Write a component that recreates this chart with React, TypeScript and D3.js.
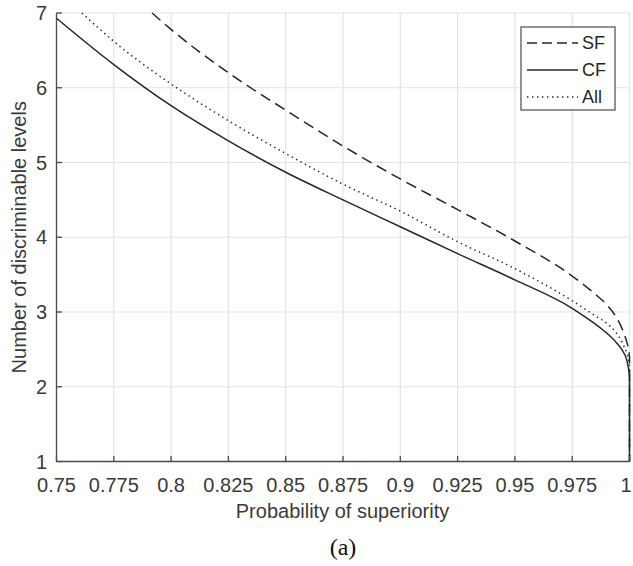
import React from "react";
import * as d3 from "d3";

const xTicks = [0.75, 0.775, 0.8, 0.825, 0.85, 0.875, 0.9, 0.925, 0.95, 0.975, 1];
const xTickLabels = ["0.75", "0.775", "0.8", "0.825", "0.85", "0.875", "0.9", "0.925", "0.95", "0.975", "1"];
const yTicks = [1, 2, 3, 4, 5, 6, 7];

const cfP = [0.75, 0.775, 0.8, 0.825, 0.85, 0.875, 0.9, 0.925, 0.95, 0.975, 0.985, 0.99, 0.994, 0.997, 0.9987, 0.9996, 1];
const cfL = [6.93, 6.31, 5.76, 5.29, 4.87, 4.5, 4.14, 3.78, 3.43, 3.05, 2.84, 2.72, 2.6, 2.48, 2.37, 2.24, 2.15];

const allP = [0.7611, 0.775, 0.8, 0.825, 0.85, 0.875, 0.9, 0.925, 0.95, 0.975, 0.985, 0.99, 0.994, 0.997, 0.9988, 0.9997, 1];
const allL = [7.0, 6.62, 6.05, 5.56, 5.12, 4.71, 4.35, 3.94, 3.58, 3.15, 2.95, 2.85, 2.73, 2.58, 2.45, 2.35, 2.28];

const sfP = [0.7917, 0.8, 0.825, 0.85, 0.875, 0.9, 0.925, 0.95, 0.975, 0.985, 0.99, 0.994, 0.997, 0.9988, 0.9997, 1];
const sfL = [7.0, 6.78, 6.2, 5.7, 5.22, 4.78, 4.37, 3.95, 3.48, 3.24, 3.1, 2.94, 2.76, 2.6, 2.48, 2.4];

const seriesNames = ["SF", "CF", "All"];

const W = 633;
const H = 566;
const left = 56.5;
const right = 629.5;
const top = 13;
const bottom = 461.5;

export default function App() {
  const x = d3.scaleLinear().domain([0.75, 1]).range([left, right]);
  const y = d3.scaleLinear().domain([1, 7]).range([bottom, top]);
  const line = d3
    .line<[number, number]>()
    .x((d) => x(d[0]))
    .y((d) => y(d[1]))
    .curve(d3.curveMonotoneX);

  const mk = (ps: number[], ls: number[]) => {
    const pts = ps.map((p, i) => [p, ls[i]] as [number, number]);
    return line(pts) + `L${x(1)},${y(1)}`;
  };

  const ink = "#262626";
  const axisCol = "#4a4a4a";
  const textCol = "#3a3a3a";
  const font = "'Liberation Sans', Arial, Helvetica, sans-serif";
  const dotted = "1.4,3.6";

  const series = [
    { name: seriesNames[0], d: mk(sfP, sfL), dash: "11,6", legDash: "10,5" },
    { name: seriesNames[1], d: mk(cfP, cfL), dash: "none", legDash: "none" },
    { name: seriesNames[2], d: mk(allP, allL), dash: dotted, legDash: dotted },
  ];

  const legX = 521;
  const legY = 27;
  const legW = 94;
  const legH = 83;
  const legRows = [43, 70, 97];

  return (
    <svg
      width={W}
      height={H}
      style={{ position: "absolute", left: 0, top: 0, background: "#fff" }}
      fontFamily={font}
    >
      <rect x={0} y={0} width={W} height={H} fill="#fff" />
      {/* grid */}
      {xTicks.map((t) => (
        <line key={"gx" + t} x1={x(t)} x2={x(t)} y1={top} y2={bottom} stroke="#e3e3e3" strokeWidth={1.2} />
      ))}
      {yTicks.map((t) => (
        <line key={"gy" + t} x1={left} x2={right} y1={y(t)} y2={y(t)} stroke="#e3e3e3" strokeWidth={1.2} />
      ))}
      {/* curves */}
      {series.map((s) => (
        <path
          key={s.name}
          d={s.d}
          fill="none"
          stroke={ink}
          strokeWidth={1.5}
          strokeDasharray={s.dash}
        />
      ))}
      {/* axes */}
      <line x1={left} x2={right} y1={bottom} y2={bottom} stroke={axisCol} strokeWidth={1.3} />
      <line x1={left} x2={left} y1={top} y2={bottom} stroke={axisCol} strokeWidth={1.3} />
      {xTicks.map((t) => (
        <line key={"tx" + t} x1={x(t)} x2={x(t)} y1={bottom} y2={bottom - 5.5} stroke={axisCol} strokeWidth={1.3} />
      ))}
      {yTicks.map((t) => (
        <line key={"ty" + t} x1={left} x2={left + 5.5} y1={y(t)} y2={y(t)} stroke={axisCol} strokeWidth={1.3} />
      ))}
      {xTicks.map((t, i) => (
        <text
          key={"lx" + t}
          x={i === xTicks.length - 1 ? Math.min(x(t), W - 7) : x(t)}
          y={492}
          textAnchor="middle"
          fontSize={20}
          fill={textCol}
        >
          {xTickLabels[i]}
        </text>
      ))}
      {yTicks.map((t) => (
        <text key={"ly" + t} x={47} y={y(t)} dy="0.36em" textAnchor="end" fontSize={20} fill={textCol}>
          {t}
        </text>
      ))}
      <text x={(left + right) / 2 - 0.5} y={518} textAnchor="middle" fontSize={20} fill={textCol}>
        Probability of superiority
      </text>
      <text
        transform={`translate(26,${(top + bottom) / 2}) rotate(-90)`}
        textAnchor="middle"
        fontSize={20}
        fill={textCol}
      >
        Number of discriminable levels
      </text>
      <text
        x={(left + right) / 2}
        y={555}
        textAnchor="middle"
        fontSize={24}
        fontFamily="'Liberation Serif', 'Times New Roman', serif"
        fill="#111"
      >
        (a)
      </text>
      {/* legend */}
      <rect x={legX} y={legY} width={legW} height={legH} fill="#fff" stroke={axisCol} strokeWidth={1.2} />
      {series.map((s, i) => (
        <g key={"leg" + s.name}>
          <line
            x1={527}
            x2={578}
            y1={legRows[i]}
            y2={legRows[i]}
            stroke={ink}
            strokeWidth={1.5}
            strokeDasharray={s.legDash}
          />
          <text x={582} y={legRows[i]} dy="0.36em" fontSize={18} fill={ink}>
            {s.name}
          </text>
        </g>
      ))}
    </svg>
  );
}
